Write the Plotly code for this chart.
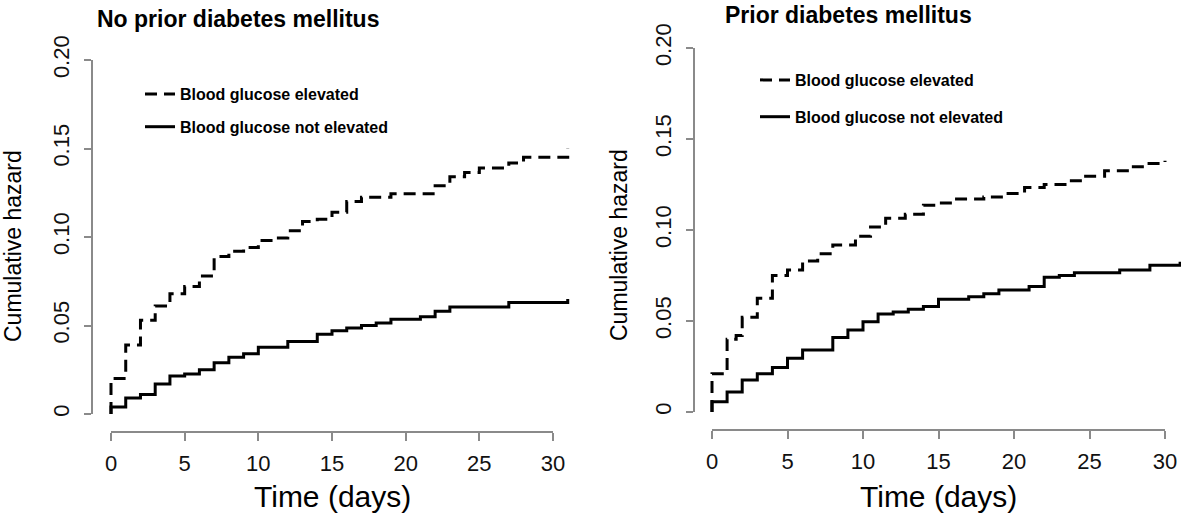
import plotly.graph_objects as go

# ---------------- data ----------------
# Panel 1: No prior diabetes mellitus
t_nodm_elev = [0, 0, 1, 2, 3, 4, 5, 6, 7, 8, 9, 10, 11, 12, 13, 14, 15, 16, 17, 19, 22, 23, 24, 25, 27, 28, 31]
h_nodm_elev = [0, 0.020, 0.039, 0.053, 0.061, 0.068, 0.072, 0.078, 0.089, 0.092, 0.094, 0.098, 0.0995,
               0.1035, 0.1087, 0.110, 0.114, 0.120, 0.1225, 0.1245, 0.129, 0.134, 0.1364, 0.139,
               0.1418, 0.145, 0.150]
t_nodm_not = [0, 0, 1, 2, 3, 4, 5, 6, 7, 8, 9, 10, 12, 14, 15, 16, 17, 18, 19, 21, 22, 23, 27, 31]
h_nodm_not = [0, 0.004, 0.009, 0.011, 0.017, 0.0215, 0.0226, 0.025, 0.029, 0.032, 0.034, 0.0377,
              0.041, 0.045, 0.047, 0.0486, 0.050, 0.0514, 0.0535, 0.055, 0.058, 0.0605, 0.063, 0.065]

# Panel 2: Prior diabetes mellitus
t_dm_elev = [0, 0, 1, 1.6, 2, 3, 4, 5, 6, 7, 8, 9.5, 10.5, 11.5, 12.8, 14, 15, 16, 18, 19.5,
             20.7, 22, 23.5, 24.5, 26, 27.8, 28.7, 30]
h_dm_elev = [0, 0.021, 0.040, 0.042, 0.052, 0.0625, 0.075, 0.078, 0.083, 0.087, 0.0917, 0.0966,
             0.1017, 0.1065, 0.1087, 0.1136, 0.1149, 0.117, 0.1182, 0.120, 0.1234, 0.125, 0.127,
             0.1296, 0.1325, 0.1347, 0.1365, 0.138]
t_dm_not = [0, 0, 1, 2, 3, 4, 5, 6, 8, 9, 10, 11, 12, 13, 14, 15, 17, 18, 19, 21, 22, 23, 24, 27, 29, 31]
h_dm_not = [0, 0.0057, 0.011, 0.0176, 0.021, 0.0245, 0.0295, 0.034, 0.041, 0.045, 0.0496, 0.0538,
            0.055, 0.0564, 0.058, 0.062, 0.0633, 0.065, 0.067, 0.069, 0.074, 0.075, 0.0765, 0.078,
            0.0807, 0.0825]

panel_titles = ["No prior diabetes mellitus", "Prior diabetes mellitus"]
series_names = ["Blood glucose elevated", "Blood glucose not elevated"]
x_ticks = [0, 5, 10, 15, 20, 25, 30]
y_ticks = [0, 0.05, 0.10, 0.15, 0.20]
y_ticktext = ["0", "0.05", "0.10", "0.15", "0.20"]
x_title = "Time (days)"
y_title = "Cumulative hazard"

# ---------------- layout helpers ----------------
W, H = 1181, 516
FONT = "Liberation Sans, Arial, Helvetica, sans-serif"
AXC = "#8a8a8a"


def fx(p):
    return p / W


def fy(p):
    return 1 - p / H


# pixel anchors of each panel
panels = [
    dict(x0=111, x30=553, y0=414, y20=60, yax=92, xax=432, xr=592),
    dict(x0=712, x30=1165, y0=412, y20=48, yax=694, xax=430, xr=1181),
]

fig = go.Figure()

data = [
    ((t_nodm_elev, h_nodm_elev), (t_nodm_not, h_nodm_not)),
    ((t_dm_elev, h_dm_elev), (t_dm_not, h_dm_not)),
]

layout = dict(
    width=W, height=H, margin=dict(l=0, r=0, t=0, b=0, pad=0, autoexpand=False),
    paper_bgcolor="white", plot_bgcolor="rgba(0,0,0,0)",
    font=dict(family=FONT, color="black"),
    annotations=[],
)

for i, p in enumerate(panels):
    n = i + 1
    xd = "x" if n == 1 else f"x{n}"
    yd = "y" if n == 1 else f"y{n}"
    xv, yv = f"x{n+2}", f"y{n+2}"
    leg = "legend" if n == 1 else "legend2"
    (te, he), (tn, hn) = data[i]
    fig.add_trace(go.Scatter(x=te, y=he, mode="lines", line=dict(color="black", width=3, dash="12px,7px", shape="hv"),
                             name=series_names[0], xaxis=xd, yaxis=yd, legend=leg, legendgroup=f"a{n}"))
    fig.add_trace(go.Scatter(x=tn, y=hn, mode="lines", line=dict(color="black", width=3, shape="hv"),
                             name=series_names[1], xaxis=xd, yaxis=yd, legend=leg, legendgroup=f"b{n}"))
    # empty trace to bind the display axes
    fig.add_trace(go.Scatter(x=[], y=[], xaxis=xv, yaxis=yv, showlegend=False, hoverinfo="skip"))

    sx = (p["x30"] - p["x0"]) / 30.0
    sy = (p["y0"] - p["y20"]) / 0.20
    dxn = "xaxis" if n == 1 else f"xaxis{n}"
    dyn = "yaxis" if n == 1 else f"yaxis{n}"
    layout[dxn] = dict(domain=[fx(p["yax"]), fx(p["xr"])],
                       range=[(p["yax"] - p["x0"]) / sx, (p["xr"] - p["x0"]) / sx],
                       visible=False, anchor=yd, automargin=False)
    ytop, ybot = p["y20"] - 10, p["y0"] + 10
    layout[dyn] = dict(domain=[fy(ybot), fy(ytop)],
                       range=[-(ybot - p["y0"]) / sy, 0.20 + (p["y20"] - ytop) / sy],
                       visible=False, anchor=xd, automargin=False)
    layout[f"xaxis{n+2}"] = dict(domain=[fx(p["x0"]), fx(p["x30"])], range=[0, 30], anchor="free",
                                 position=fy(p["xax"]), showline=True, linecolor=AXC, linewidth=1.5,
                                 ticks="outside", ticklen=8, tickcolor=AXC, tickwidth=1.5,
                                 tickvals=x_ticks, showgrid=False, zeroline=False, automargin=False,
                                 tickfont=dict(size=22, family=FONT, color="#111"),
                                 ticklabelstandoff=4)
    layout[f"yaxis{n+2}"] = dict(domain=[fy(p["y0"]), fy(p["y20"])], range=[0, 0.20], anchor="free",
                                 position=fx(p["yax"]), showline=True, linecolor=AXC, linewidth=1.5,
                                 ticks="outside", ticklen=7, tickcolor=AXC, tickwidth=1.5,
                                 tickvals=y_ticks, ticktext=y_ticktext, tickangle=-90,
                                 showgrid=False, zeroline=False, automargin=False,
                                 tickfont=dict(size=22, family=FONT, color="#111"),
                                 ticklabelstandoff=6)

# legends
legfont = dict(family=FONT, size=16, color="black", weight="bold")
layout["legend"] = dict(x=fx(140), y=fy(77), xanchor="left", yanchor="top", font=legfont,
                        bgcolor="rgba(0,0,0,0)", tracegroupgap=9, itemwidth=30)
layout["legend2"] = dict(x=fx(755), y=fy(63), xanchor="left", yanchor="top", font=legfont,
                         bgcolor="rgba(0,0,0,0)", tracegroupgap=13, itemwidth=30)

ann = layout["annotations"]
ann.append(dict(text=f"<b>{panel_titles[0]}</b>", x=fx(238), y=fy(19), xref="paper", yref="paper",
                showarrow=False, font=dict(size=23, family=FONT), xanchor="center", yanchor="middle"))
ann.append(dict(text=f"<b>{panel_titles[1]}</b>", x=fx(848), y=fy(15), xref="paper", yref="paper",
                showarrow=False, font=dict(size=23, family=FONT), xanchor="center", yanchor="middle"))
for cx in (332, 938):
    ann.append(dict(text=x_title, x=fx(cx), y=fy(496), xref="paper", yref="paper", showarrow=False,
                    font=dict(size=30, family=FONT), xanchor="center", yanchor="middle"))
for cx, cy in ((13, 246), (619, 245)):
    ann.append(dict(text=y_title, x=fx(cx), y=fy(cy), xref="paper", yref="paper", showarrow=False,
                    textangle=-90, font=dict(size=23, family=FONT), xanchor="center", yanchor="middle"))

fig.update_layout(**layout)
fig.write_html("out.html")
